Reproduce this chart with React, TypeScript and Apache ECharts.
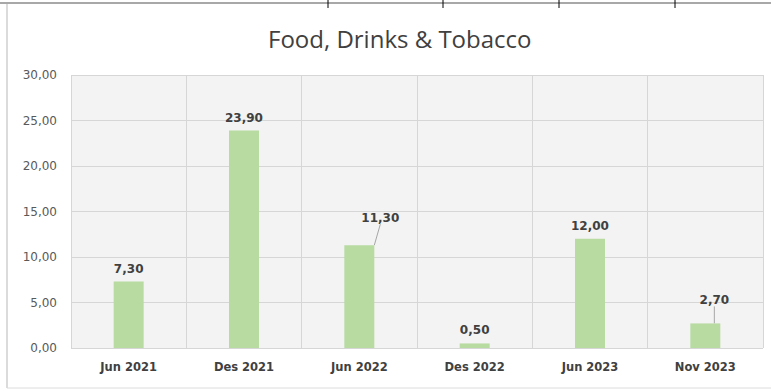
import React, { useEffect, useRef } from "react";
import * as echarts from "echarts";

const categories = ["Jun 2021", "Des 2021", "Jun 2022", "Des 2022", "Jun 2023", "Nov 2023"];
const values = [7.3, 23.9, 11.3, 0.5, 12.0, 2.7];
const yTicks = [0, 5, 10, 15, 20, 25, 30];
const titleText = "Food, Drinks & Tobacco";

const fmt = (v: number) => v.toFixed(2).replace(".", ",");
const TFONT = "'Open Sans', 'Noto Sans', sans-serif";
const FONT = "'DejaVu Sans', sans-serif";

export default function App() {
  const ref = useRef<HTMLDivElement>(null);
  useEffect(() => {
    if (!ref.current) return;
    const chart = echarts.init(ref.current, undefined, { renderer: "svg" });
    const movedLabel = [2, 5];
    chart.setOption({
      animation: false,
      backgroundColor: "#ffffff",
      title: {
        text: titleText,
        left: 263,
        top: 21,
        textStyle: { fontFamily: TFONT, fontSize: 24, fontWeight: "normal", color: "#404040" },
      },
      grid: {
        left: 71,
        right: 8,
        top: 75,
        bottom: 42,
        show: true,
        backgroundColor: "#f3f3f3",
        borderWidth: 0,
      },
      xAxis: {
        type: "category",
        data: categories,
        axisLine: { show: false },
        axisTick: { show: false },
        splitLine: { show: true, lineStyle: { color: "#d6d6d6", width: 1 } },
        axisLabel: {
          fontFamily: FONT,
          fontSize: 11.5,
          fontWeight: "bold",
          color: "#404040",
          margin: 13,
        },
      },
      yAxis: {
        type: "value",
        min: yTicks[0],
        max: yTicks[yTicks.length - 1],
        interval: 5,
        axisLine: { show: false },
        axisTick: { show: false },
        splitLine: { lineStyle: { color: "#d6d6d6", width: 1 } },
        axisLabel: {
          fontFamily: FONT,
          fontSize: 12,
          color: "#595959",
          margin: 14,
          formatter: (v: number) => fmt(v),
        },
      },
      series: [
        {
          type: "bar",
          data: values.map((v, i) => ({
            value: v,
            labelLine: { show: movedLabel.includes(i) },
          })),
          barWidth: "26%",
          itemStyle: { color: "#b7dba0" },
          label: {
            show: true,
            position: "top",
            distance: 7,
            fontFamily: FONT,
            fontSize: 12,
            fontWeight: "bold",
            color: "#404040",
            formatter: (p: any) => fmt(p.value),
          },
          labelLine: { lineStyle: { color: "#a6a6a6", width: 1 } },
          labelLayout: (p: any) => {
            if (p.dataIndex === 2) return { dx: 21, dy: -14 };
            if (p.dataIndex === 5) return { dx: 9, dy: -10 };
            return {};
          },
        },
      ],
      graphic: [
        { type: "line", shape: { x1: 0, y1: 3, x2: 771, y2: 3 }, style: { stroke: "#a8a8a8", lineWidth: 2 } },
        { type: "line", shape: { x1: 7, y1: 4, x2: 7, y2: 388 }, style: { stroke: "#cfcfcf", lineWidth: 1.5 } },
        { type: "line", shape: { x1: 7, y1: 388, x2: 771, y2: 388 }, style: { stroke: "#dcdcdc", lineWidth: 1 } },
        { type: "line", shape: { x1: 328, y1: 0, x2: 328, y2: 8 }, style: { stroke: "#000", lineWidth: 1 } },
        { type: "line", shape: { x1: 443, y1: 0, x2: 443, y2: 8 }, style: { stroke: "#000", lineWidth: 1 } },
        { type: "line", shape: { x1: 559, y1: 0, x2: 559, y2: 8 }, style: { stroke: "#000", lineWidth: 1 } },
        { type: "line", shape: { x1: 675, y1: 0, x2: 675, y2: 8 }, style: { stroke: "#000", lineWidth: 1 } },
      ],
    });
    return () => chart.dispose();
  }, []);
  return (
    <div
      ref={ref}
      style={{ position: "fixed", left: 0, top: 0, width: 771, height: 390 }}
    />
  );
}
